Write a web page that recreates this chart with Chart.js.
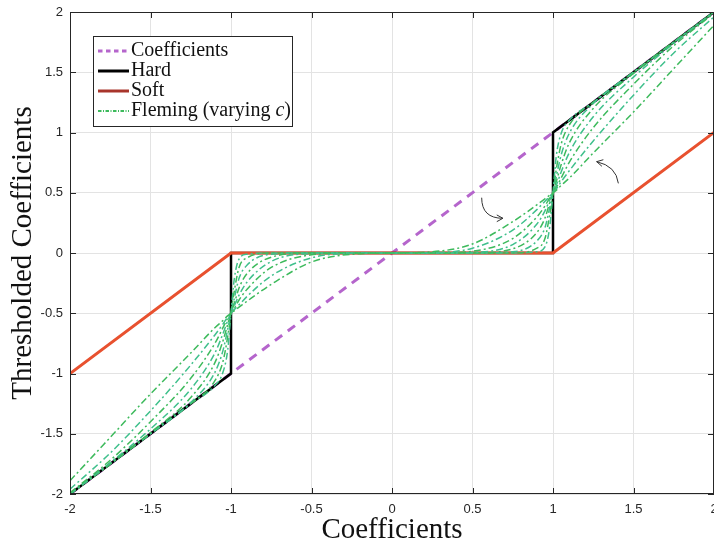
<!DOCTYPE html>
<html>
<head>
<meta charset="utf-8">
<script src="https://cdn.jsdelivr.net/npm/chart.js@4/dist/chart.umd.min.js"></script>
<style>
  html, body { margin: 0; padding: 0; background: #fff; }
</style>
</head>
<body>
<canvas id="chart" width="714" height="548"></canvas>
<script>
// tick values
const xTickValues = [-2, -1.5, -1, -0.5, 0, 0.5, 1, 1.5, 2];
const yTickValues = [-2, -1.5, -1, -0.5, 0, 0.5, 1, 1.5, 2];

// y = x reference
const coefX = [-2, 2];
const coefY = [-2, 2];

// hard thresholding
const hardX = [-2, -1, -1, 1, 1, 2];
const hardY = [-2, -1, 0, 0, 1, 2];

// soft thresholding
const softX = [-2, -1, 1, 2];
const softY = [-1, 0, 0, 1];

// fleming curves (shared x grid)
const flemingX = [-2, -1.75, -1.5, -1.25, -1.1, -1.05, -1.02, -1, -0.98, -0.95, -0.9, -0.75, -0.5, -0.25, 0,
  0.25, 0.5, 0.75, 0.9, 0.95, 0.98, 1, 1.02, 1.05, 1.1, 1.25, 1.5, 1.75, 2];
const fleming1 = [-1.89, -1.53, -1.17, -0.83, -0.62, -0.56, -0.52, -0.5, -0.48, -0.45, -0.40, -0.26, -0.075, -0.01, 0,
  0.01, 0.075, 0.26, 0.40, 0.45, 0.48, 0.5, 0.52, 0.56, 0.62, 0.83, 1.17, 1.53, 1.89];
const fleming2 = [-1.96, -1.66, -1.31, -0.93, -0.68, -0.59, -0.53, -0.5, -0.47, -0.43, -0.36, -0.19, -0.04, -0.003, 0,
  0.003, 0.04, 0.19, 0.36, 0.43, 0.47, 0.5, 0.53, 0.59, 0.68, 0.93, 1.31, 1.66, 1.96];
const fleming3 = [-1.99, -1.72, -1.40, -1.04, -0.75, -0.62, -0.54, -0.5, -0.46, -0.39, -0.30, -0.12, -0.015, 0, 0,
  0, 0.015, 0.12, 0.30, 0.39, 0.46, 0.5, 0.54, 0.62, 0.75, 1.04, 1.40, 1.72, 1.99];
const fleming4 = [-2, -1.74, -1.46, -1.13, -0.83, -0.67, -0.56, -0.5, -0.44, -0.35, -0.24, -0.07, -0.005, 0, 0,
  0, 0.005, 0.07, 0.24, 0.35, 0.44, 0.5, 0.56, 0.67, 0.83, 1.13, 1.46, 1.74, 2];
const fleming5 = [-2, -1.75, -1.49, -1.20, -0.91, -0.73, -0.59, -0.5, -0.42, -0.29, -0.17, -0.035, 0, 0, 0,
  0, 0, 0.035, 0.17, 0.29, 0.42, 0.5, 0.59, 0.73, 0.91, 1.20, 1.49, 1.75, 2];
const fleming6 = [-2, -1.75, -1.5, -1.24, -0.99, -0.81, -0.63, -0.5, -0.38, -0.21, -0.10, -0.01, 0, 0, 0,
  0, 0, 0.01, 0.10, 0.21, 0.38, 0.5, 0.63, 0.81, 0.99, 1.24, 1.5, 1.75, 2];
const fleming7 = [-2, -1.75, -1.5, -1.25, -1.06, -0.90, -0.69, -0.5, -0.32, -0.12, -0.04, 0, 0, 0, 0,
  0, 0, 0, 0.04, 0.12, 0.32, 0.5, 0.69, 0.90, 1.06, 1.25, 1.5, 1.75, 2];
const fleming8 = [-2, -1.75, -1.5, -1.25, -1.10, -0.99, -0.80, -0.5, -0.22, -0.05, -0.01, 0, 0, 0, 0,
  0, 0, 0, 0.01, 0.05, 0.22, 0.5, 0.80, 0.99, 1.10, 1.25, 1.5, 1.75, 2];
const flemingSeries = [fleming1, fleming2, fleming3, fleming4, fleming5, fleming6, fleming7, fleming8];

// curved arrows: [startX, startY, endX, endY] in data units
const arrows = [
  [0.557, 0.459, 0.689, 0.288],
  [1.406, 0.578, 1.271, 0.758]
];

const toPoints = (xs, ys) => xs.map((x, i) => ({ x: x, y: ys[i] }));

const axisColor = "#262626";
const serif = "'Liberation Serif', 'Times New Roman', serif";
const sans = "'Liberation Sans', Arial, sans-serif";
const greens = ["#3dba5c", "#3fc08c"];

const datasets = [
  {
    label: "Coefficients",
    data: toPoints(coefX, coefY),
    borderColor: "#b565cc",
    borderWidth: 3,
    borderDash: [9, 7],
    order: 4,
  },
  {
    label: "Hard",
    data: toPoints(hardX, hardY),
    borderColor: "#000000",
    borderWidth: 2.5,
    order: 3,
  },
  {
    label: "Soft",
    data: toPoints(softX, softY),
    borderColor: "#e8512f",
    legendColor: "#a8352b",
    borderWidth: 3,
    order: 2,
  },
];
flemingSeries.forEach((ys, i) => {
  datasets.push({
    label: "Fleming (varying c)",
    data: toPoints(flemingX, ys),
    borderColor: greens[i % 2],
    borderWidth: 1.5,
    borderDash: [7, 3, 2, 3],
    cubicInterpolationMode: "monotone",
    order: 1,
  });
});

// frame + inward ticks like the original figure
const framePlugin = {
  id: "frame",
  afterDatasetsDraw(chart) {
    const { ctx, chartArea: a, scales } = chart;
    ctx.save();
    ctx.strokeStyle = axisColor;
    ctx.lineWidth = 1;
    ctx.strokeRect(a.left + 0.5, a.top + 0.5, a.right - a.left - 1, a.bottom - a.top - 1);
    ctx.beginPath();
    xTickValues.forEach((v) => {
      const px = Math.round(scales.x.getPixelForValue(v)) + 0.5;
      ctx.moveTo(px, a.bottom);
      ctx.lineTo(px, a.bottom - 6);
      ctx.moveTo(px, a.top);
      ctx.lineTo(px, a.top + 6);
    });
    yTickValues.forEach((v) => {
      const py = Math.round(scales.y.getPixelForValue(v)) + 0.5;
      ctx.moveTo(a.left, py);
      ctx.lineTo(a.left + 6, py);
      ctx.moveTo(a.right, py);
      ctx.lineTo(a.right - 6, py);
    });
    ctx.stroke();

    // annotation arrows
    ctx.strokeStyle = "#333";
    ctx.lineWidth = 1;
    arrows.forEach(([x0, y0, x1, y1]) => {
      const sx = scales.x.getPixelForValue(x0);
      const sy = scales.y.getPixelForValue(y0);
      const ex = scales.x.getPixelForValue(x1);
      const ey = scales.y.getPixelForValue(y1);
      const cx = x1 > x0 ? sx : ex + (sx - ex) * 0.9;
      const cy = x1 > x0 ? ey : ey + (sy - ey) * 0.2;
      ctx.beginPath();
      ctx.moveTo(sx, sy);
      ctx.quadraticCurveTo(cx, cy, ex, ey);
      ctx.stroke();
      const ang = Math.atan2(ey - cy, ex - cx);
      ctx.beginPath();
      ctx.moveTo(ex - 7 * Math.cos(ang - 0.5), ey - 7 * Math.sin(ang - 0.5));
      ctx.lineTo(ex, ey);
      ctx.lineTo(ex - 7 * Math.cos(ang + 0.5), ey - 7 * Math.sin(ang + 0.5));
      ctx.stroke();
    });
    ctx.restore();
  },
};

// boxed legend in the upper left
const legendPlugin = {
  id: "boxLegend",
  afterDraw(chart) {
    const { ctx } = chart;
    const seen = new Set();
    const items = chart.data.datasets.filter((d) => {
      if (seen.has(d.label)) return false;
      seen.add(d.label);
      return true;
    });
    const left = 93, top = 36, w = 199, rowH = 20;
    const h = items.length * rowH + 10;
    ctx.save();
    ctx.fillStyle = "#fff";
    ctx.fillRect(left, top, w, h);
    ctx.strokeStyle = axisColor;
    ctx.lineWidth = 1;
    ctx.strokeRect(left + 0.5, top + 0.5, w, h);
    items.forEach((d, i) => {
      const y = top + 15 + i * rowH;
      ctx.beginPath();
      ctx.strokeStyle = d.legendColor || d.borderColor;
      ctx.lineWidth = d.borderWidth > 2 ? 3 : 2;
      ctx.setLineDash(d.borderDash ? d.borderDash.map((v) => v * 0.5) : []);
      ctx.moveTo(98, y);
      ctx.lineTo(129, y);
      ctx.stroke();
      ctx.setLineDash([]);
      ctx.fillStyle = "#111";
      ctx.textBaseline = "middle";
      ctx.font = "20px " + serif;
      let text = d.label;
      let x = 131;
      const m = text.match(/^(.*) (c)\)$/);
      if (m) {
        ctx.fillText(m[1] + " ", x, y);
        x += ctx.measureText(m[1] + " ").width;
        ctx.font = "italic 20px " + serif;
        ctx.fillText("c", x, y);
        x += ctx.measureText("c").width;
        ctx.font = "20px " + serif;
        ctx.fillText(")", x, y);
      } else {
        ctx.fillText(text, x, y);
      }
    });
    ctx.restore();
  },
};

new Chart(document.getElementById("chart").getContext("2d"), {
  type: "scatter",
  data: { datasets: datasets },
  options: {
    responsive: false,
    animation: false,
    devicePixelRatio: 1,
    layout: { padding: { top: 12, right: 0, left: 0, bottom: 0 } },
    elements: {
      point: { radius: 0, hoverRadius: 0 },
      line: { tension: 0, fill: false },
    },
    datasets: { scatter: { showLine: true } },
    plugins: {
      legend: { display: false },
      tooltip: { enabled: false },
    },
    scales: {
      x: {
        type: "linear",
        min: -2,
        max: 2,
        afterBuildTicks: (s) => { s.ticks = xTickValues.map((v) => ({ value: v })); },
        afterFit: (s) => { s.height = 54; s.paddingLeft = 0; s.paddingRight = 0; },
        grid: { color: "#e3e3e3", drawTicks: false },
        border: { display: false },
        ticks: {
          color: axisColor, padding: 8, maxRotation: 0, font: { family: sans, size: 13 },
          callback: (v) => String(v),
        },
        title: {
          display: true,
          text: "Coefficients",
          color: "#111",
          font: { family: serif, size: 29 },
          padding: { top: 0, bottom: 0 },
        },
      },
      y: {
        type: "linear",
        min: -2,
        max: 2,
        afterBuildTicks: (s) => { s.ticks = yTickValues.map((v) => ({ value: v })); },
        afterFit: (s) => { s.width = 70; s.paddingTop = 0; s.paddingBottom = 0; },
        grid: { color: "#e3e3e3", drawTicks: false },
        border: { display: false },
        ticks: {
          color: axisColor, padding: 7, font: { family: sans, size: 13 },
          callback: (v) => String(v),
        },
        title: {
          display: true,
          text: "Thresholded Coefficients",
          color: "#111",
          font: { family: serif, size: 29 },
          padding: { top: 6, bottom: 0 },
        },
      },
    },
  },
  plugins: [framePlugin, legendPlugin],
});
</script>
</body>
</html>
